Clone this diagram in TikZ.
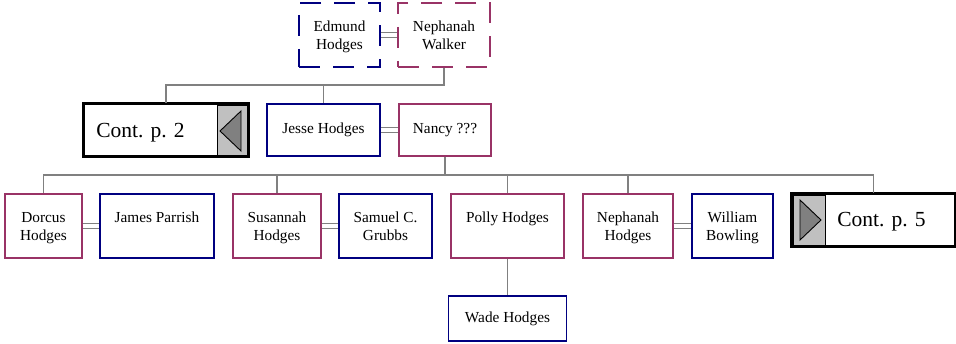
\documentclass[tikz,border=0pt]{standalone}
\usepackage{fontspec}
\setmainfont{Liberation Serif}
\usetikzlibrary{calc}
\definecolor{manc}{HTML}{000080}
\definecolor{womc}{HTML}{993366}
\definecolor{linec}{HTML}{808080}
\definecolor{contg}{HTML}{C0C0C0}
\definecolor{trig}{HTML}{808080}
\newcommand{\tbx}[1]{\makebox[0pt]{\parbox[c][31.2pt][t]{150pt}{\centering\strut #1}}}
\begin{document}
\begin{tikzpicture}[x=1pt,y=-1pt,
  person/.style={draw, line width=1.2pt, inner sep=0pt, font=\fontsize{15.3}{18}\selectfont, fill=white},
  man/.style={person, draw=manc},
  woman/.style={person, draw=womc},
  tall/.style={minimum height=64pt},
  short/.style={minimum height=52pt},
  dashedbox/.style={dash pattern=on 21pt off 13pt},
  conn/.style={draw=linec, line width=1.3pt},
  marr/.style={draw=linec, line width=1pt, double=white, double distance=4pt},
  contbox/.style={draw=black, line width=2pt, minimum height=52pt, inner sep=0pt, fill=white},
  graypart/.style={fill=contg, draw=black, line width=0.8pt},
  tri/.style={fill=trig, draw=black, line width=0.9pt, line join=miter},
  conttext/.style={font=\fontsize{21.5}{24}\selectfont, inner sep=0pt},
]
\useasboundingbox (0,0) rectangle (956,344);

% generation 1
\node[man,dashedbox,tall,minimum width=81pt] (edmund) at (339.5,35) {\tbx{Edmund\\Hodges}};
\node[woman,dashedbox,tall,minimum width=92pt] (nwalker) at (444,35) {\tbx{Nephanah\\Walker}};

% generation 2
\node[contbox,minimum width=164pt] (cont2) at (166,130) {};
\draw[graypart] (217,105) rectangle (247,155);
\draw[line width=2pt] (cont2.north west) rectangle (cont2.south east);
\draw[tri] (220,131) -- (241,111) -- (241,151) -- cycle;
\node[conttext] (c2t) at (140.5,133) {Cont. p. 2};

\node[man,short,minimum width=113pt] (jesse) at (323.5,130) {Jesse Hodges};
\node[woman,short,minimum width=92pt] (nancy) at (445,130) {Nancy ???};

% generation 3
\node[woman,tall,minimum width=77pt] (dorcus) at (43.5,226) {\tbx{Dorcus\\Hodges}};
\node[man,tall,minimum width=114pt] (james) at (157,226) {\tbx{James Parrish}};
\node[woman,tall,minimum width=88pt] (susannah) at (277,226) {\tbx{Susannah\\Hodges}};
\node[man,tall,minimum width=93pt] (samuel) at (385.5,226) {\tbx{Samuel C.\\Grubbs}};
\node[woman,tall,minimum width=113pt] (polly) at (507.5,226) {\tbx{Polly Hodges}};
\node[woman,tall,minimum width=90pt] (nephh) at (628,226) {\tbx{Nephanah\\Hodges}};
\node[man,tall,minimum width=81pt] (william) at (732.5,226) {\tbx{William\\Bowling}};

\node[contbox,minimum width=163pt] (cont5) at (873.5,220) {};
\draw[graypart] (793,195) rectangle (825,245);
\draw[line width=2pt] (cont5.north west) rectangle (cont5.south east);
\draw[tri] (800,200) -- (821,220) -- (800,240) -- cycle;
\node[conttext] (c5t) at (881.5,222) {Cont. p. 5};

% generation 4
\node[man,minimum height=45pt,minimum width=118pt] (wade) at (507.5,318.5) {Wade Hodges};

% connectors
\draw[marr] (edmund.east) -- (nwalker.west);
\coordinate (bar1) at (0,85);
\draw[conn] (nwalker.south) -- (nwalker.south |- bar1) -| (cont2.north);
\draw[conn] (jesse.north |- bar1) -- (jesse.north);

\draw[marr] (jesse.east) -- (nancy.west);
\coordinate (bar2) at (0,175);
\draw[conn] (nancy.south) -- (nancy.south |- bar2) -| (dorcus.north);
\draw[conn] (nancy.south |- bar2) -| (cont5.north);
\draw[conn] (susannah.north |- bar2) -- (susannah.north);
\draw[conn] (polly.north |- bar2) -- (polly.north);
\draw[conn] (nephh.north |- bar2) -- (nephh.north);

\draw[marr] (dorcus.east) -- (james.west);
\draw[marr] (susannah.east) -- (samuel.west);
\draw[marr] (nephh.east) -- (william.west);

\draw[conn] (polly.south) -- (wade.north);
\end{tikzpicture}
\end{document}
